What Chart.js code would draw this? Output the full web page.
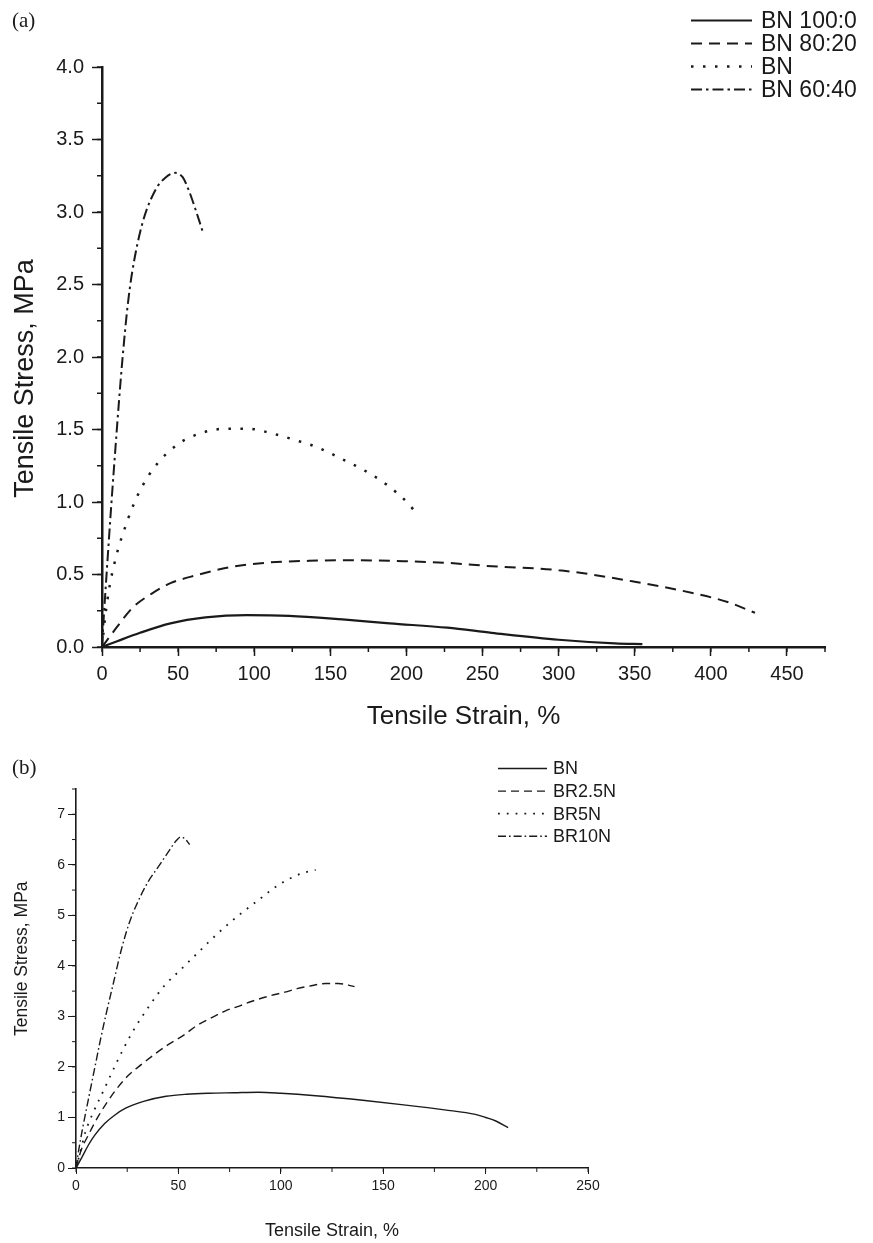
<!DOCTYPE html>
<html>
<head>
<meta charset="utf-8">
<title>Tensile stress–strain curves</title>
<script src="https://cdn.jsdelivr.net/npm/chart.js@4.4.1/dist/chart.umd.min.js"></script>
<style>
  html, body { margin: 0; padding: 0; background: #fff; }
  body { width: 873px; height: 1243px; position: relative; overflow: hidden; }
  canvas { position: absolute; left: 0; }
  #chartA { top: 0; }
  #chartB { top: 740px; }
  .panel { position: absolute; font-family: 'Liberation Serif', 'DejaVu Serif', serif; font-size: 21px; color: #1a1a1a; }
  .ytitle { position: absolute; font-family: 'Liberation Sans', Arial, sans-serif; color: #1a1a1a;
            text-align: center; white-space: nowrap; transform: rotate(-90deg); }
</style>
</head>
<body>
<canvas id="chartA" width="873" height="740"></canvas>
<canvas id="chartB" width="873" height="503"></canvas>
<div class="panel" style="left:12px; top:8px;">(a)</div>
<div class="panel" style="left:12px; top:755px;">(b)</div>
<div class="ytitle" style="left:-126px; top:364.5px; width:300px; height:27px; line-height:27px; font-size:27px;">Tensile Stress, MPa</div>
<div class="ytitle" style="left:-78px; top:950px; width:200px; height:17.5px; line-height:17.5px; font-size:17.5px;">Tensile Stress, MPa</div>
<script>
// (a) BN blends: strain (%) and stress (MPa)
const strainBN100 = [0, 10, 25, 45, 68, 95, 123, 158, 189, 227, 256, 300, 337, 355];
const stressBN100 = [0, 0.04, 0.098, 0.163, 0.204, 0.22, 0.215, 0.19, 0.163, 0.133, 0.098, 0.05, 0.025, 0.02];

const strainBN8020 = [0, 5, 10, 20, 33, 45, 62, 84, 110, 136, 160, 198, 227, 256, 300, 350, 389, 411, 429];
const stressBN8020 = [0, 0.07, 0.14, 0.27, 0.37, 0.44, 0.495, 0.55, 0.583, 0.594, 0.599, 0.592, 0.58, 0.557, 0.53, 0.45, 0.37, 0.31, 0.236];

const strainBN = [0, 2, 5, 8, 11, 15, 19.5, 26, 36, 50, 65, 81, 96, 111, 126, 142, 157, 172, 187, 202, 208];
const stressBN = [0, 0.2, 0.42, 0.57, 0.69, 0.82, 0.95, 1.1, 1.26, 1.4, 1.475, 1.505, 1.505, 1.475, 1.43, 1.375, 1.3, 1.22, 1.12, 0.98, 0.9];

const strainBN6040 = [0, 1.3, 3.5, 5.7, 7.9, 11.2, 13.4, 16.7, 19.9, 26.5, 35, 42, 48, 53, 57, 62, 66];
const stressBN6040 = [0, 0.23, 0.58, 0.92, 1.24, 1.7, 1.98, 2.34, 2.59, 2.92, 3.15, 3.24, 3.27, 3.24, 3.15, 3.0, 2.87];

// (b) BR/N compounds
const strainBNb = [0, 3, 6, 9, 14, 19, 24, 33, 44, 54, 65, 77, 89, 100, 117, 140, 160, 180, 195, 200, 205, 211];
const stressBNb = [0, 0.22, 0.45, 0.64, 0.88, 1.05, 1.18, 1.32, 1.42, 1.46, 1.48, 1.49, 1.5, 1.48, 1.43, 1.34, 1.25, 1.15, 1.06, 1.0, 0.93, 0.8];

const strainBR25N = [0, 2.5, 6, 11, 19, 26, 32, 39, 45, 53, 59, 67, 73, 80, 86, 94, 102, 108, 114, 122, 128, 133, 136];
const stressBR25N = [0, 0.35, 0.65, 1.03, 1.52, 1.85, 2.05, 2.27, 2.44, 2.64, 2.82, 2.99, 3.11, 3.21, 3.3, 3.4, 3.48, 3.55, 3.6, 3.65, 3.65, 3.62, 3.59];

const strainBR5N = [0, 2, 4.5, 9, 14, 20, 27, 36, 43, 51, 58, 65, 73, 81, 89, 97, 105, 111, 117];
const stressBR5N = [0, 0.3, 0.7, 1.15, 1.58, 2.1, 2.65, 3.22, 3.6, 3.92, 4.2, 4.48, 4.78, 5.05, 5.3, 5.55, 5.74, 5.84, 5.9];

const strainBR10N = [0, 1.3, 3.3, 6, 9, 12, 15, 18.5, 22, 26, 30, 35, 40, 45, 49, 51, 53, 55.5];
const stressBR10N = [0, 0.35, 0.8, 1.35, 1.95, 2.55, 3.1, 3.7, 4.3, 4.85, 5.25, 5.65, 5.95, 6.25, 6.48, 6.55, 6.52, 6.4];

const ticksA = { xStep: 50, xMax: 475, yStep: 0.5, yMax: 4 };
const ticksB = { xStep: 50, xMax: 250, yStep: 1, yMax: 7.5 };

const ink = '#1a1a1a';

function pts(xs, ys) {
  return xs.map((x, i) => ({ x: x, y: ys[i] }));
}

// legend drawn as short line samples next to the labels
const lineLegend = {
  id: 'lineLegend',
  afterDraw(chart, args, opts) {
    const ctx = chart.ctx;
    ctx.save();
    ctx.font = opts.font;
    ctx.fillStyle = ink;
    ctx.textBaseline = 'middle';
    chart.data.datasets.forEach((ds, i) => {
      const y = opts.top + i * opts.rowHeight;
      ctx.beginPath();
      ctx.setLineDash(ds.borderDash || []);
      ctx.lineWidth = ds.borderWidth;
      ctx.strokeStyle = ds.borderColor;
      ctx.moveTo(opts.left, y);
      ctx.lineTo(opts.left + opts.lineLength, y);
      ctx.stroke();
      ctx.fillText(ds.label, opts.left + opts.lineLength + opts.gap, y + 1);
    });
    ctx.restore();
  }
};

// short minor ticks between the labelled ones
const minorTicks = {
  id: 'minorTicks',
  afterDraw(chart, args, opts) {
    const ctx = chart.ctx;
    const area = chart.chartArea;
    const xs = chart.scales.x;
    const ys = chart.scales.y;
    ctx.save();
    ctx.strokeStyle = ink;
    ctx.lineWidth = opts.width;
    for (let v = xs.min; v <= xs.max + 1e-9; v += opts.xStep) {
      const px = xs.getPixelForValue(v);
      ctx.beginPath();
      ctx.moveTo(px, area.bottom);
      ctx.lineTo(px, area.bottom + opts.length);
      ctx.stroke();
    }
    for (let v = ys.min; v <= ys.max + 1e-9; v += opts.yStep) {
      const py = ys.getPixelForValue(v);
      ctx.beginPath();
      ctx.moveTo(area.left, py);
      ctx.lineTo(area.left - opts.length, py);
      ctx.stroke();
    }
    ctx.restore();
  }
};

function curve(label, xs, ys, width, dash) {
  return {
    label: label,
    data: pts(xs, ys),
    borderColor: ink,
    borderWidth: width,
    borderDash: dash,
    borderCapStyle: 'butt',
    pointRadius: 0,
    fill: false,
    cubicInterpolationMode: 'monotone'
  };
}

function axisOptions(cfg) {
  return {
    type: 'linear',
    min: 0,
    max: cfg.max,
    afterFit: cfg.fit,
    border: { display: true, color: ink, width: cfg.border },
    grid: { drawOnChartArea: false, drawTicks: true, tickLength: cfg.tickLength, tickColor: ink, tickWidth: cfg.tickWidth },
    ticks: {
      stepSize: cfg.step,
      includeBounds: false,
      autoSkip: false,
      maxRotation: 0,
      color: ink,
      padding: cfg.padding,
      font: { family: "'Liberation Sans', Arial, sans-serif", size: cfg.fontSize },
      callback: cfg.format
    },
    title: {
      display: !!cfg.title,
      text: cfg.title || '',
      color: ink,
      font: { family: "'Liberation Sans', Arial, sans-serif", size: cfg.titleSize },
      padding: cfg.titlePadding
    }
  };
}

new Chart(document.getElementById('chartA'), {
  type: 'line',
  data: {
    datasets: [
      curve('BN 100:0', strainBN100, stressBN100, 2.2, []),
      curve('BN 80:20', strainBN8020, stressBN8020, 2, [11, 7]),
      curve('BN', strainBN, stressBN, 2.5, [2.5, 9.5]),
      curve('BN 60:40', strainBN6040, stressBN6040, 2, [11, 4, 2.5, 4])
    ]
  },
  options: {
    responsive: false,
    animation: false,
    events: [],
    layout: { padding: { left: 0, top: 67, right: 48, bottom: 0 } },
    plugins: {
      legend: { display: false },
      tooltip: { enabled: false },
      lineLegend: { left: 691, top: 20.5, rowHeight: 23, lineLength: 61, gap: 9, font: "23px 'Liberation Sans', Arial, sans-serif" },
      minorTicks: { xStep: 25, yStep: 0.25, length: 5, width: 1.5 }
    },
    scales: {
      x: axisOptions({
        max: ticksA.xMax, step: ticksA.xStep, border: 2.5, tickLength: 9, tickWidth: 1.5,
        padding: 6, fontSize: 20, title: 'Tensile Strain, %', titleSize: 26,
        titlePadding: { top: 0, bottom: 8 },
        fit: s => { s.height = 93; },
        format: v => String(v)
      }),
      y: axisOptions({
        max: ticksA.yMax, step: ticksA.yStep, border: 2.5, tickLength: 10, tickWidth: 1.5,
        padding: 8, fontSize: 20,
        fit: s => { s.width = 102; },
        format: v => v.toFixed(1)
      })
    }
  },
  plugins: [lineLegend, minorTicks]
});

new Chart(document.getElementById('chartB'), {
  type: 'line',
  data: {
    datasets: [
      curve('BN', strainBNb, stressBNb, 1.4, []),
      curve('BR2.5N', strainBR25N, stressBR25N, 1.4, [8, 5]),
      curve('BR5N', strainBR5N, stressBR5N, 1.8, [1.8, 7]),
      curve('BR10N', strainBR10N, stressBR10N, 1.4, [8, 3, 1.6, 3])
    ]
  },
  options: {
    responsive: false,
    animation: false,
    events: [],
    layout: { padding: { left: 0, top: 49, right: 285, bottom: 0 } },
    plugins: {
      legend: { display: false },
      tooltip: { enabled: false },
      lineLegend: { left: 498, top: 28.5, rowHeight: 22.6, lineLength: 49, gap: 6, font: "18px 'Liberation Sans', Arial, sans-serif" },
      minorTicks: { xStep: 25, yStep: 0.5, length: 4, width: 1 }
    },
    scales: {
      x: axisOptions({
        max: ticksB.xMax, step: ticksB.xStep, border: 1.6, tickLength: 6, tickWidth: 1,
        padding: 4, fontSize: 14, title: 'Tensile Strain, %', titleSize: 18,
        titlePadding: { top: 0, bottom: 1 },
        fit: s => { s.height = 75; },
        format: v => String(v)
      }),
      y: axisOptions({
        max: ticksB.yMax, step: ticksB.yStep, border: 1.6, tickLength: 8, tickWidth: 1,
        padding: 3, fontSize: 14,
        fit: s => { s.width = 76; },
        format: v => String(v)
      })
    }
  },
  plugins: [lineLegend, minorTicks]
});
</script>
</body>
</html>
